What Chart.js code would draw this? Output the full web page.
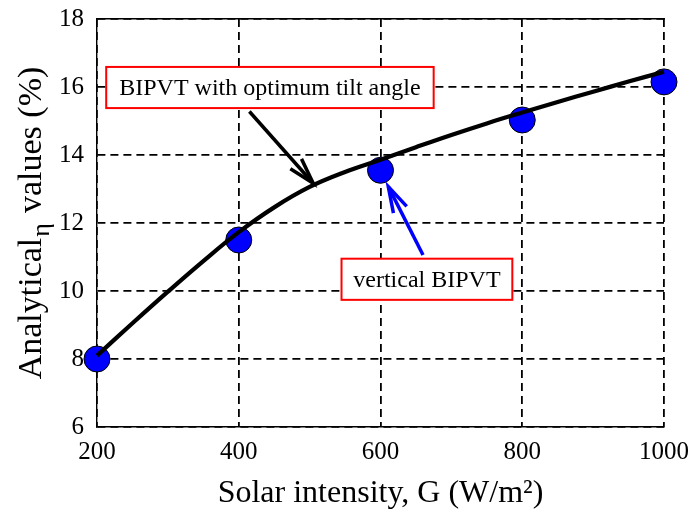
<!DOCTYPE html>
<html><head><meta charset="utf-8">
<script src="https://cdn.jsdelivr.net/npm/chart.js@4/dist/chart.umd.min.js"></script>
<style>html,body{margin:0;padding:0;background:#fff}#wrap{width:692px;height:523px}</style>
</head><body><div id="wrap"><canvas id="c" width="692" height="523"></canvas></div>
<script>
// ---- data ----
const xTickValues = [200, 400, 600, 800, 1000];
const yTickValues = [6, 8, 10, 12, 14, 16, 18];
const intensity = [200, 400, 600, 800, 1000];           // W/m2 (measured points)
const verticalBIPVT = [8.0, 11.5, 13.55, 15.03, 16.15];  // blue circles
const curveIntensity = [200, 250, 300, 350, 400, 450, 500, 550, 600, 650, 700, 750, 800, 850, 900, 950, 1000];
const optimumTilt = [8.1, 9.05, 9.98, 10.88, 11.73, 12.46, 13.06, 13.5, 13.86, 14.23, 14.59, 14.93, 15.25, 15.56, 15.86, 16.16, 16.45];

const xTitle = 'Solar intensity, G (W/m²)';
const yTitleParts = ['Analytical', 'η', 'values (%)'];

// annotation placement (in data units)
const notes = [
  {text: 'BIPVT with optimum tilt angle', box: [213, 16.59, 675, 15.38], color: '#000000',
   from: [415, 15.28], to: [505, 13.17]},
  {text: 'vertical BIPVT', box: [545, 10.95, 786, 9.74], color: '#0000ff',
   from: [660, 11.06], to: [611, 13.07]}
];

const FONT = '"Liberation Serif", "Times New Roman", serif';

const annotPlugin = {
  id: 'annot',
  afterDatasetsDraw(chart) {
    const {ctx, scales: {x, y}} = chart;
    ctx.save();
    notes.forEach(n => {
      const x1 = x.getPixelForValue(n.from[0]), y1 = y.getPixelForValue(n.from[1]);
      const x2 = x.getPixelForValue(n.to[0]), y2 = y.getPixelForValue(n.to[1]);
      ctx.strokeStyle = n.color; ctx.lineWidth = 3.5; ctx.lineCap = 'butt';
      ctx.beginPath(); ctx.moveTo(x1, y1); ctx.lineTo(x2, y2); ctx.stroke();
      const ang = Math.atan2(y1 - y2, x1 - x2);
      const L = 27, s = 16 * Math.PI / 180;
      ctx.beginPath();
      ctx.moveTo(x2 + L * Math.cos(ang + s), y2 + L * Math.sin(ang + s));
      ctx.lineTo(x2, y2);
      ctx.lineTo(x2 + L * Math.cos(ang - s), y2 + L * Math.sin(ang - s));
      ctx.stroke();
      const bx1 = x.getPixelForValue(n.box[0]), by1 = y.getPixelForValue(n.box[1]);
      const bx2 = x.getPixelForValue(n.box[2]), by2 = y.getPixelForValue(n.box[3]);
      ctx.fillStyle = '#ffffff';
      ctx.fillRect(bx1, by1, bx2 - bx1, by2 - by1);
      ctx.strokeStyle = '#ff0000'; ctx.lineWidth = 2;
      ctx.strokeRect(bx1, by1, bx2 - bx1, by2 - by1);
      ctx.fillStyle = '#000000';
      ctx.font = '24px ' + FONT;
      ctx.textAlign = 'center'; ctx.textBaseline = 'middle';
      ctx.fillText(n.text, (bx1 + bx2) / 2, (by1 + by2) / 2 + 1);
    });
    ctx.restore();
  }
};

const yTitlePlugin = {
  id: 'ytitle',
  afterDraw(chart) {
    const {ctx} = chart;
    ctx.save();
    const big = '34px ' + FONT, small = '26px ' + FONT;
    ctx.font = big;
    const w0 = ctx.measureText(yTitleParts[0]).width;
    const sp = ctx.measureText(' ').width;
    const w2 = ctx.measureText(yTitleParts[2]).width;
    ctx.font = small;
    const w1 = ctx.measureText(yTitleParts[1]).width;
    const total = w0 + w1 + sp * 1.3 + w2;
    const cy = (chart.chartArea.top + chart.chartArea.bottom) / 2;
    ctx.translate(41, cy + total / 2);
    ctx.rotate(-Math.PI / 2);
    ctx.fillStyle = '#000';
    ctx.textBaseline = 'alphabetic';
    ctx.textAlign = 'left';
    ctx.font = big;
    ctx.fillText(yTitleParts[0], 0, 0);
    ctx.font = small;
    ctx.fillText(yTitleParts[1], w0 + 1, 8);
    ctx.font = big;
    ctx.fillText(yTitleParts[2], w0 + w1 + sp * 1.3, 0);
    ctx.restore();
  }
};

const gridCommon = {color: '#000000', lineWidth: 1.8, drawTicks: false};
const borderCommon = {display: true, color: '#000000', width: 1.4, dash: [8, 5]};

new Chart(document.getElementById('c'), {
  type: 'scatter',
  data: {
    datasets: [
      {
        label: 'BIPVT with optimum tilt angle',
        data: curveIntensity.map((v, i) => ({x: v, y: optimumTilt[i]})),
        showLine: true, borderColor: '#000000', borderWidth: 4.2,
        pointRadius: 0, tension: 0.4, order: 0, clip: false
      },
      {
        label: 'vertical BIPVT',
        data: intensity.map((v, i) => ({x: v, y: verticalBIPVT[i]})),
        showLine: false, pointRadius: 13, pointHoverRadius: 13,
        backgroundColor: '#0000ff', borderColor: '#000000', borderWidth: 1,
        order: 1, clip: false
      }
    ]
  },
  options: {
    responsive: false, animation: false, devicePixelRatio: 1,
    layout: {padding: {top: 19, right: 28, left: 0, bottom: 0}},
    plugins: {legend: {display: false}, tooltip: {enabled: false}},
    scales: {
      x: {
        type: 'linear', position: 'bottom', min: 200, max: 1000,
        afterBuildTicks: s => { s.ticks = xTickValues.map(v => ({value: v})); },
        ticks: {color: '#000', font: {family: FONT, size: 25}, padding: 10, maxRotation: 0,
                callback: v => String(v)},
        grid: gridCommon, border: borderCommon,
        title: {display: true, text: xTitle, color: '#000', font: {family: FONT, size: 32}, padding: {top: 0, bottom: 10}},
        afterFit: s => { s.height = 96; s.paddingLeft = 0; s.paddingRight = 0; }
      },
      x2: {
        type: 'linear', position: 'top', min: 200, max: 1000,
        ticks: {display: false}, grid: {display: false, drawTicks: false},
        border: {display: true, color: '#000000', width: 1.4},
        afterFit: s => { s.height = 0; s.paddingLeft = 0; s.paddingRight = 0; }
      },
      y: {
        type: 'linear', min: 6, max: 18,
        afterBuildTicks: s => { s.ticks = yTickValues.map(v => ({value: v})); },
        ticks: {color: '#000', font: {family: FONT, size: 25}, padding: 13, callback: v => String(v)},
        grid: gridCommon, border: borderCommon,
        afterFit: s => { s.width = 97; s.paddingTop = 0; s.paddingBottom = 0; }
      }
    }
  },
  plugins: [annotPlugin, yTitlePlugin]
});
</script></body></html>
